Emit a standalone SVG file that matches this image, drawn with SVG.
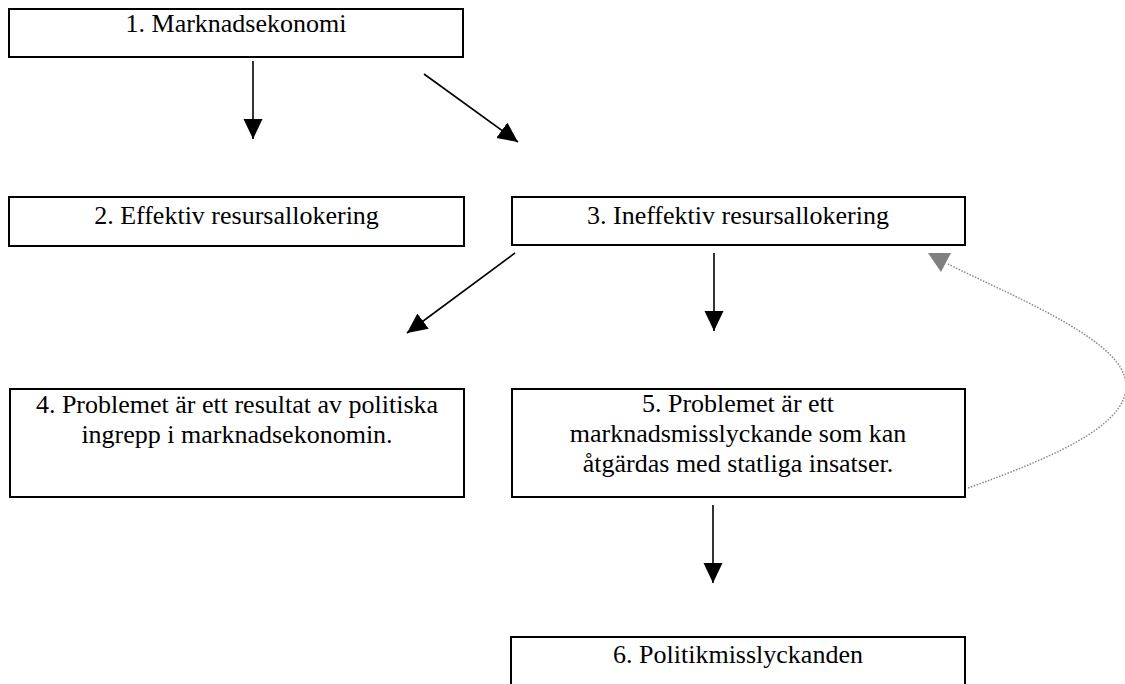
<svg xmlns="http://www.w3.org/2000/svg" width="1125" height="684" viewBox="0 0 1125 684">
<defs>
<style>
.box{fill:#fff;stroke:#000;stroke-width:2}
.t{font-family:"Liberation Serif","Times New Roman",serif;font-size:26px;fill:#000;text-anchor:middle}
.c{stroke:#000;stroke-width:1.6;fill:none}
.d{stroke:#888;stroke-width:1.5;fill:none;stroke-dasharray:1.5 1.5}
</style>
<marker id="ah" markerUnits="userSpaceOnUse" markerWidth="21" markerHeight="20" refX="20" refY="9.5" orient="auto" viewBox="0 0 21 20">
<path d="M0,0 L20,9.5 L0,19 z" fill="#000"/>
</marker>
</defs>
<rect width="1125" height="684" fill="#fff"/>
<g id="connectors">
<line class="c" x1="253" y1="61" x2="253" y2="139" marker-end="url(#ah)"/>
<line class="c" x1="424" y1="74" x2="518" y2="142" marker-end="url(#ah)"/>
<line class="c" x1="515" y1="253" x2="407" y2="333" marker-end="url(#ah)"/>
<line class="c" x1="714" y1="253" x2="714" y2="331" marker-end="url(#ah)"/>
<line class="c" x1="713" y1="505" x2="713" y2="583" marker-end="url(#ah)"/>
<path class="d" d="M968,488 C1060,455 1140,420 1124,375 C1110,335 1010,295 948,264"/>
<polygon points="928,253 951,253 941,272" fill="#808080"/>
</g>
<g id="n1"><rect class="box" x="9" y="9" width="454" height="48"/><text class="t" x="236" y="32">1. Marknadsekonomi</text></g>
<g id="n2"><rect class="box" x="9" y="197" width="455" height="49"/><text class="t" x="236.5" y="224">2. Effektiv resursallokering</text></g>
<g id="n3"><rect class="box" x="512" y="197" width="453" height="48"/><text class="t" x="738" y="224">3. Ineffektiv resursallokering</text></g>
<g id="n4"><rect class="box" x="10" y="389" width="454" height="108"/><text class="t" x="237" y="413">4. Problemet är ett resultat av politiska</text><text class="t" x="237" y="443">ingrepp i marknadsekonomin.</text></g>
<g id="n5"><rect class="box" x="512" y="389" width="453" height="108"/><text class="t" x="738" y="412">5. Problemet är ett</text><text class="t" x="738" y="442">marknadsmisslyckande som kan</text><text class="t" x="738" y="472">åtgärdas med statliga insatser.</text></g>
<g id="n6"><rect class="box" x="511" y="637" width="454" height="60"/><text class="t" x="738" y="663">6. Politikmisslyckanden</text></g>
</svg>
